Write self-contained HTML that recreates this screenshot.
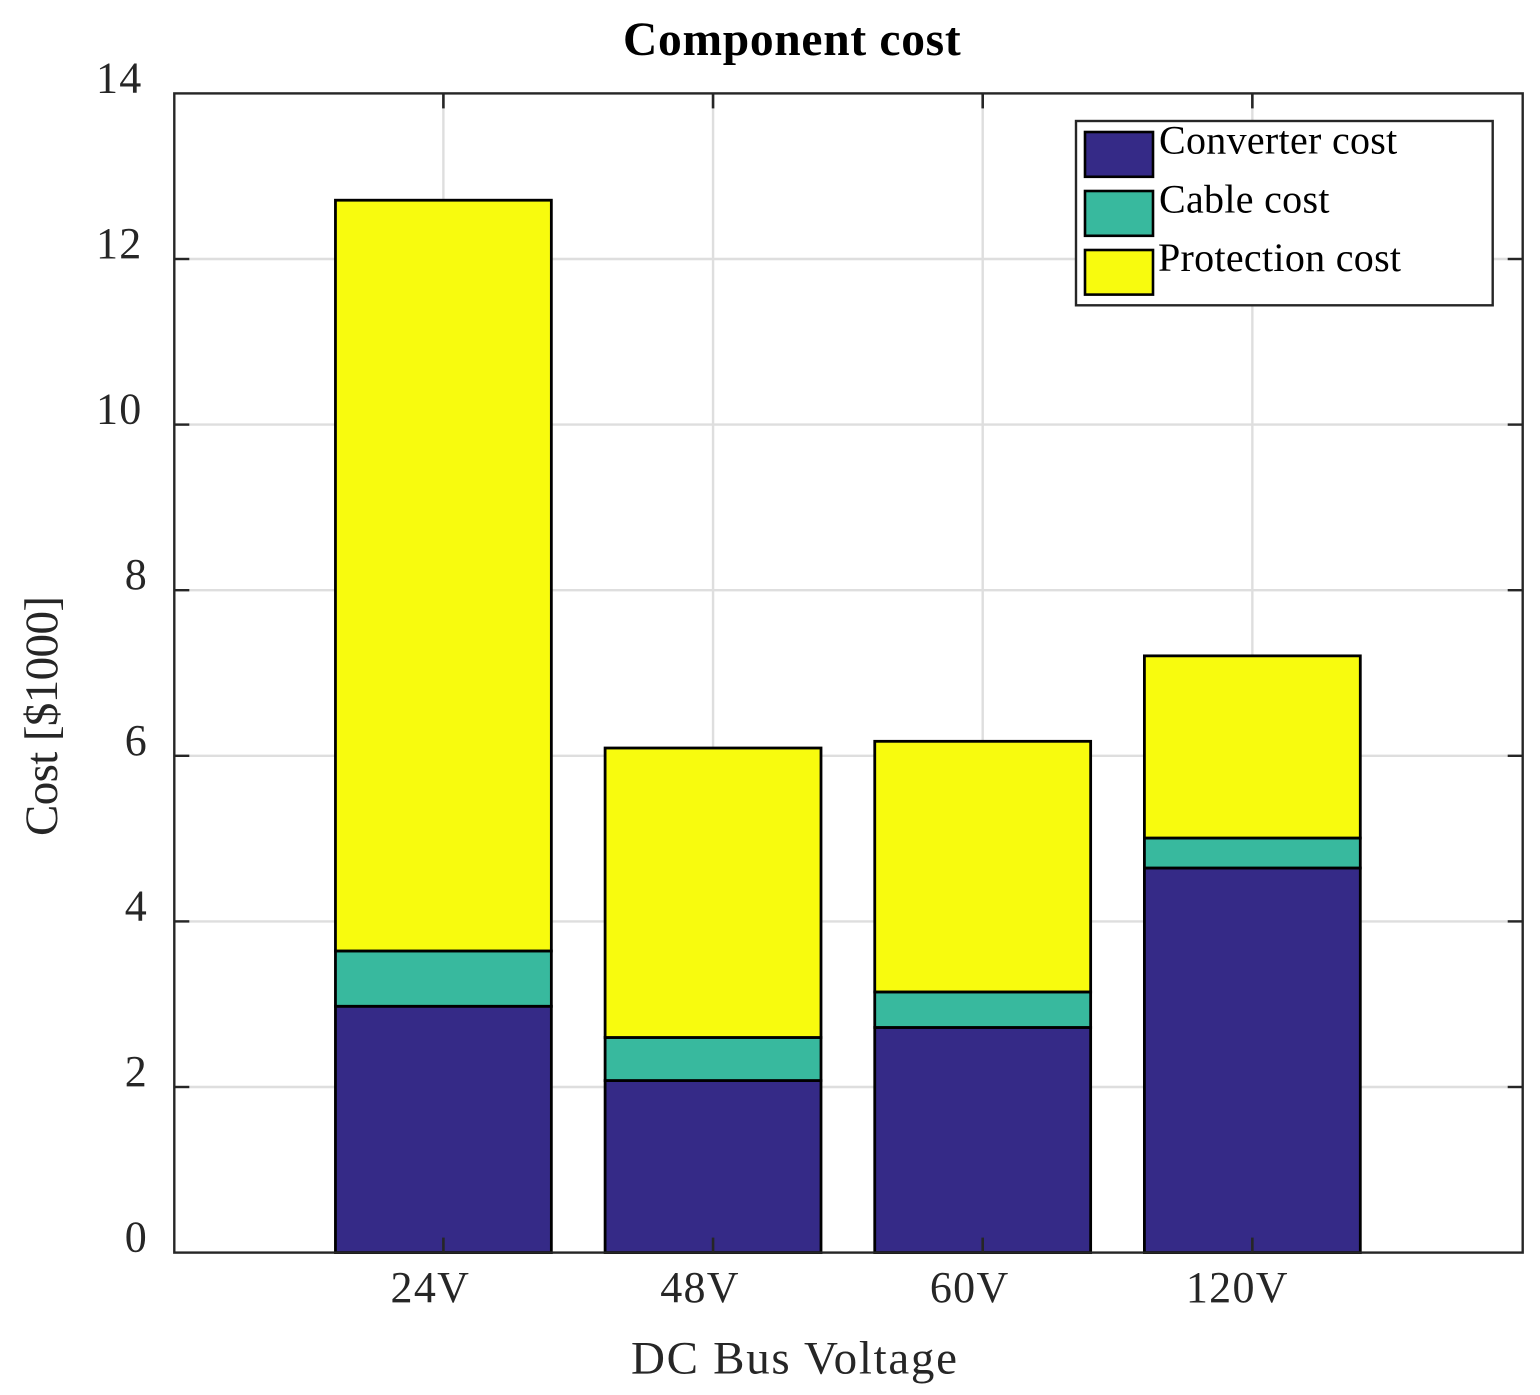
<!DOCTYPE html>
<html>
<head>
<meta charset="utf-8">
<style>
html,body{margin:0;padding:0;background:#fff;}
svg{display:block;font-family:"Liberation Serif",serif;}
</style>
</head>
<body>
<svg id="chart" width="1540" height="1395" viewBox="0 0 1540 1395" xmlns="http://www.w3.org/2000/svg">
<rect x="0" y="0" width="1540" height="1395" fill="#fff"/>
<g id="grid"></g>
<g id="bars"></g>
<rect x="174.3" y="93.4" width="1348.4" height="1159.2" fill="none" stroke="#262626" stroke-width="2.4"/>
<g id="ticks"></g>
<g id="labels"></g>
<text x="792.2" y="55" font-size="47.5" font-weight="bold" text-anchor="middle" letter-spacing="0.7" fill="#000">Component cost</text>
<text x="794" y="1373.5" font-size="47" text-anchor="middle" fill="#262626" textLength="326" lengthAdjust="spacing">DC Bus Voltage</text>
<text transform="translate(57 716) rotate(-90)" font-size="47" text-anchor="middle" fill="#262626" textLength="240" lengthAdjust="spacing">Cost [$1000]</text>
<g>
<rect x="1076" y="121" width="416.7" height="184.3" fill="#fff" stroke="#262626" stroke-width="2.4"/>
<rect x="1085" y="132" width="68" height="44.8" fill="#352a87" stroke="#000" stroke-width="2.6"/>
<text x="1159" y="153.5" font-size="40" letter-spacing="0.3" fill="#000">Converter cost</text>
<rect x="1085" y="191" width="68" height="44.8" fill="#38b99e" stroke="#000" stroke-width="2.6"/>
<text x="1159" y="212.3" font-size="40" letter-spacing="0.3" fill="#000">Cable cost</text>
<rect x="1085" y="250" width="68" height="44.6" fill="#f8fb0e" stroke="#000" stroke-width="2.6"/>
<text x="1158" y="271" font-size="40" letter-spacing="0.3" fill="#000">Protection cost</text>
</g>
</svg>
<script>
const categories = ['24V', '48V', '60V', '120V'];
const converterCost = [2.975, 2.078, 2.719, 4.645];
const cableCost = [0.668, 0.52, 0.429, 0.362];
const protectionCost = [9.067, 3.496, 3.027, 2.2];
const yTickLabels = [0, 2, 4, 6, 8, 10, 12, 14];

const NS = 'http://www.w3.org/2000/svg';
const plotLeft = 174.3, plotRight = 1522.7, plotTop = 93.4, plotBottom = 1252.6;
const xScale = i => 443.4 + i * 269.65;
const yScale = v => plotBottom - (v / 14) * (plotBottom - plotTop);
const barWidth = 215.9;
const tickLength = 15;

function make(parent, tag, attrs) {
  const el = document.createElementNS(NS, tag);
  for (const k in attrs) el.setAttribute(k, attrs[k]);
  parent.appendChild(el);
  return el;
}
const grid = document.getElementById('grid');
const bars = document.getElementById('bars');
const ticks = document.getElementById('ticks');
const labels = document.getElementById('labels');

yTickLabels.forEach(v => {
  const y = yScale(v);
  if (v > 0 && v < 14) {
    const g = make(grid, 'line', {x1: plotLeft, x2: plotRight, y1: y, y2: y, stroke: '#dedede', 'stroke-width': 2.4});
    
    
    const t1 = make(ticks, 'line', {x1: plotLeft, x2: plotLeft + tickLength, y1: y, y2: y, stroke: '#262626', 'stroke-width': 2.4});
    
    
    const t2 = make(ticks, 'line', {x1: plotRight - tickLength, x2: plotRight, y1: y, y2: y, stroke: '#262626', 'stroke-width': 2.4});
    
    
  }
  const wide = String(v).length > 1;
  const tx = make(labels, 'text', {x: wide ? 96 : 124.7, y: y - 1, 'font-size': 44, 'letter-spacing': 1.2, fill: '#262626'});
  
  
  tx.textContent = v;
});

categories.forEach((c, i) => {
  const x = xScale(i);
  const g = make(grid, 'line', {x1: x, x2: x, y1: plotTop, y2: plotBottom, stroke: '#dedede', 'stroke-width': 2.4});
  
  

  const stacks = [
    ['converter', converterCost[i], '#352a87'],
    ['cable', cableCost[i], '#38b99e'],
    ['protection', protectionCost[i], '#f8fb0e']
  ];
  let base = 0;
  stacks.forEach(s => {
    const yTop = yScale(base + s[1]);
    const yBase = yScale(base);
    const r = make(bars, 'rect', {x: x - barWidth / 2, y: yTop, width: barWidth, height: yBase - yTop, fill: s[2], stroke: '#000', 'stroke-width': 2.8});
    
    
    base += s[1];
  });

  const t1 = make(ticks, 'line', {x1: x, x2: x, y1: plotBottom - tickLength, y2: plotBottom, stroke: '#262626', 'stroke-width': 2.6});
  
  
  const t2 = make(ticks, 'line', {x1: x, x2: x, y1: plotTop, y2: plotTop + tickLength, stroke: '#262626', 'stroke-width': 2.6});
  
  

  const tx = make(labels, 'text', {x: x - (c.length > 3 ? 15 : 13), y: 1301.8, 'font-size': 44, 'letter-spacing': 1.3, 'text-anchor': 'middle', fill: '#262626'});
  
  
  tx.textContent = c;
});
</script>
</body>
</html>
